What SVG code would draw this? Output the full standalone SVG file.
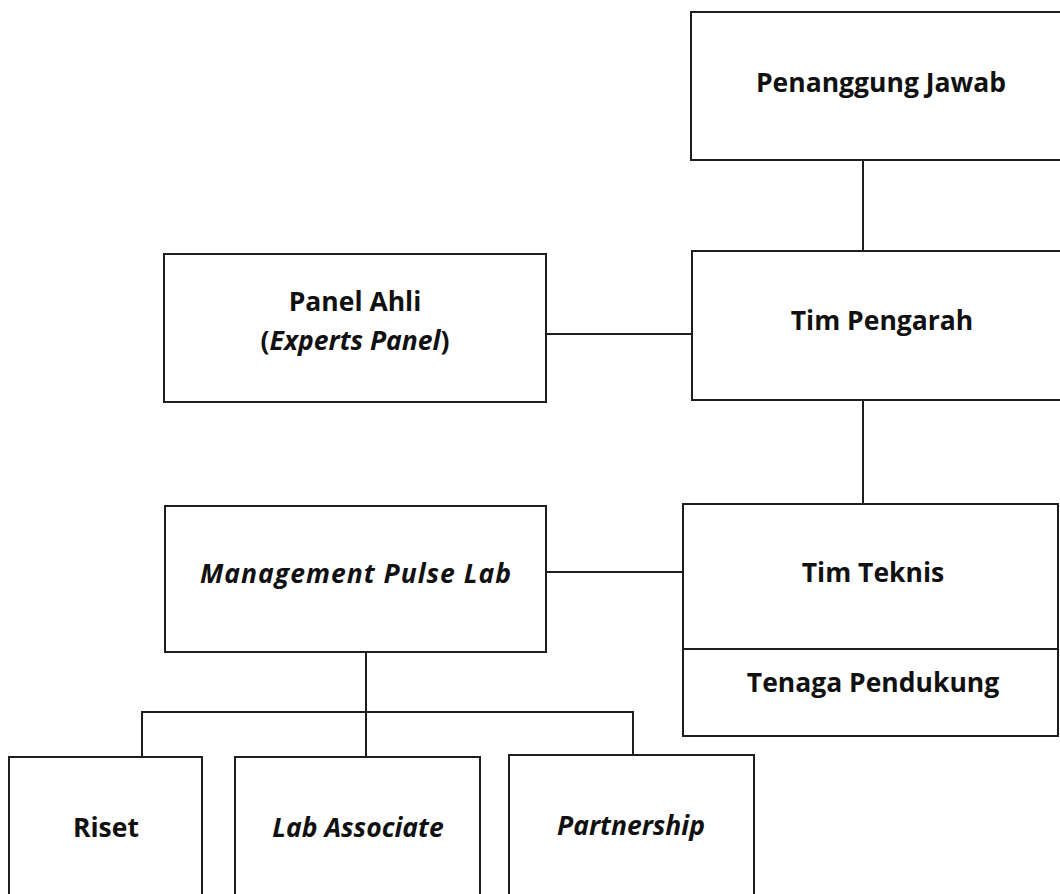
<svg xmlns="http://www.w3.org/2000/svg" width="1060" height="894" viewBox="0 0 1060 894">
<style>
  .box { fill: #ffffff; stroke: #1e1e1e; stroke-width: 2; }
  .conn { fill: none; stroke: #1e1e1e; stroke-width: 2; }
  .t { font-family: "Open Sans", Lato, "Liberation Sans", sans-serif; font-weight: 700; font-size: 26.5px; fill: #111; text-anchor: middle; }
  .i { font-style: italic; }
</style>
<rect width="1060" height="894" fill="#ffffff"/>
<g id="connectors">
  <line class="conn" x1="863" y1="160" x2="863" y2="251"/>
  <line class="conn" x1="863" y1="400" x2="863" y2="504"/>
  <line class="conn" x1="546" y1="334" x2="692" y2="334"/>
  <line class="conn" x1="546" y1="572" x2="683" y2="572"/>
  <line class="conn" x1="366" y1="652" x2="366" y2="757"/>
  <polyline class="conn" points="142,757 142,712 633,712 633,755"/>
</g>
<g id="penanggung-jawab">
  <rect class="box" x="691" y="12" width="380" height="148"/>
  <text class="t" x="881" y="92">Penanggung Jawab</text>
</g>
<g id="tim-pengarah">
  <rect class="box" x="692" y="251" width="380" height="149"/>
  <text class="t" x="882" y="330">Tim Pengarah</text>
</g>
<g id="panel-ahli">
  <rect class="box" x="164" y="254" width="382" height="148"/>
  <text class="t" x="355" y="311">Panel Ahli</text>
  <text class="t" x="355" y="350">(<tspan class="i">Experts Panel</tspan>)</text>
</g>
<g id="tim-teknis">
  <rect class="box" x="683" y="504" width="375" height="232"/>
  <line class="conn" x1="683" y1="649" x2="1058" y2="649"/>
  <text class="t" x="873" y="582">Tim Teknis</text>
  <text class="t" x="873" y="692">Tenaga Pendukung</text>
</g>
<g id="management-pulse-lab">
  <rect class="box" x="165" y="506" width="381" height="146"/>
  <text class="t i" x="356" y="583" letter-spacing="1">Management Pulse Lab</text>
</g>
<g id="riset">
  <rect class="box" x="9" y="757" width="193" height="150"/>
  <text class="t" x="106" y="837">Riset</text>
</g>
<g id="lab-associate">
  <rect class="box" x="235" y="757" width="245" height="150"/>
  <text class="t i" x="358" y="837">Lab Associate</text>
</g>
<g id="partnership">
  <rect class="box" x="509" y="755" width="245" height="152"/>
  <text class="t i" x="631" y="835">Partnership</text>
</g>
</svg>
